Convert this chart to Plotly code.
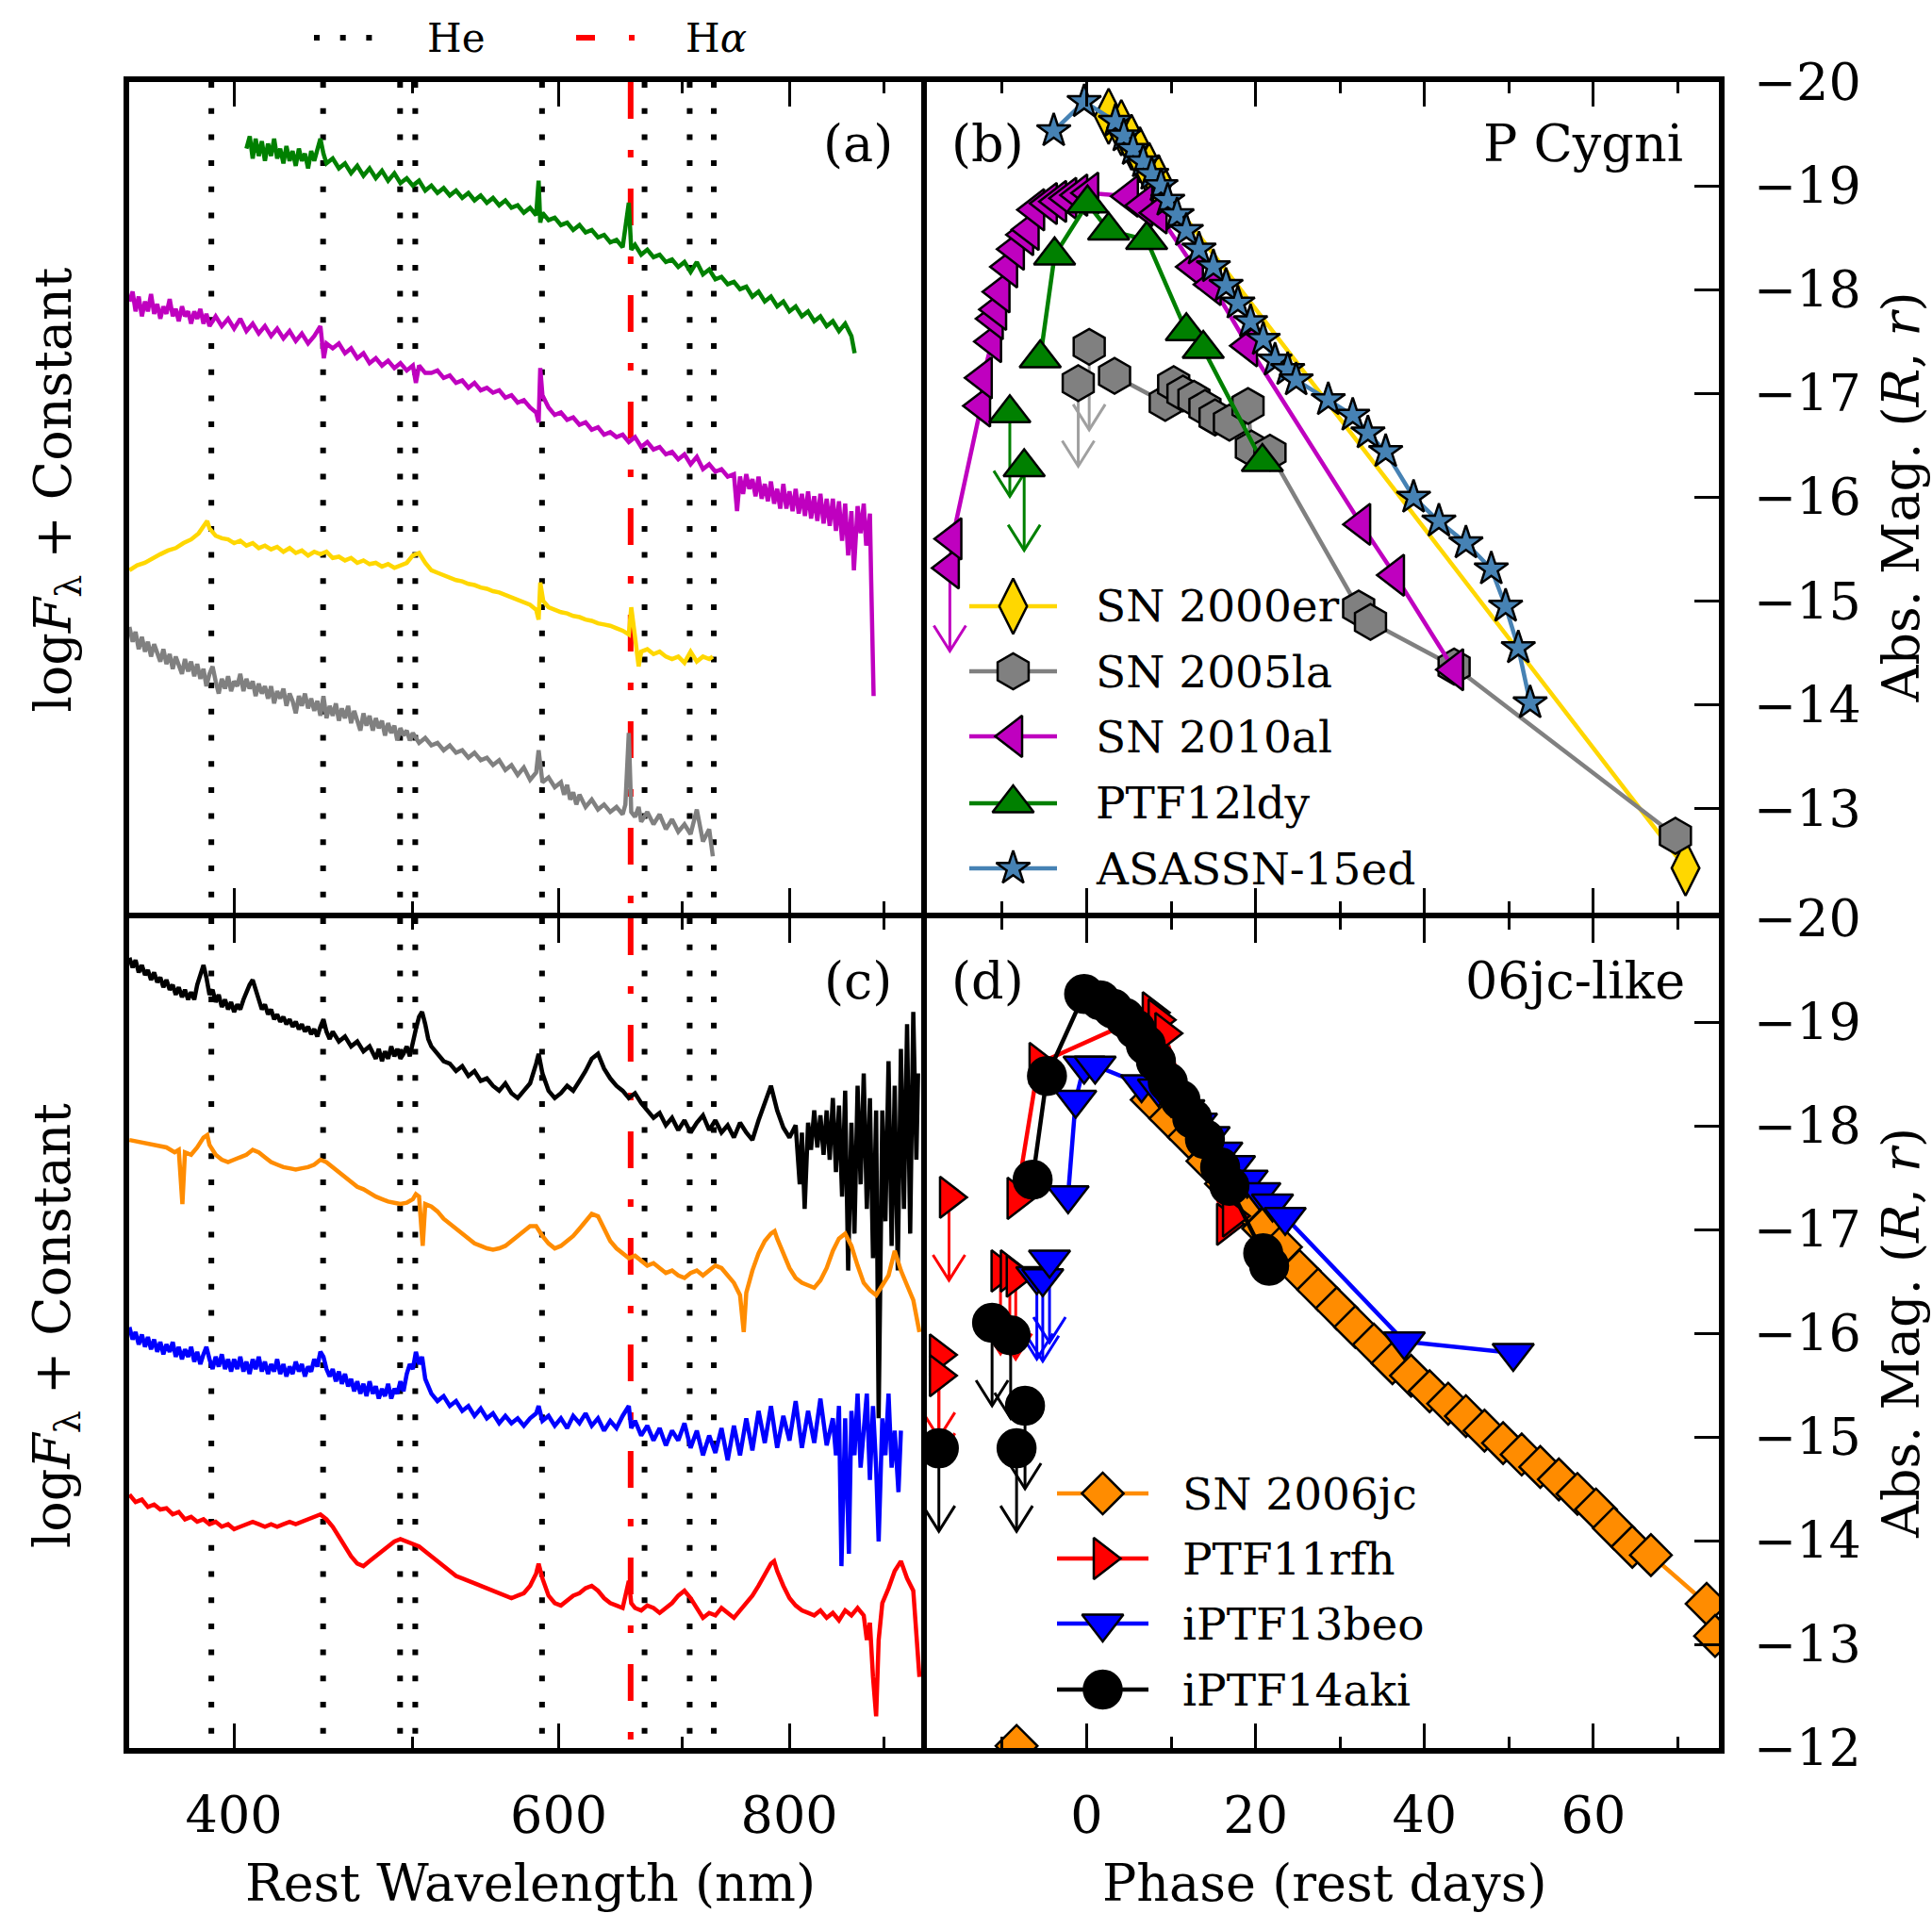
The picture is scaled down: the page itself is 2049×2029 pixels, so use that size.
import plotly.graph_objects as go

W, H = 2049, 2029
SERIF = "DejaVu Serif"

# Rest wavelengths of the marked lines (nm)
HE_LINES_NM = [388.9, 447.1, 492.2, 501.6, 587.6, 667.8, 706.5, 728.1]
HALPHA_NM = 656.3

# ---------------- spectra: (rest wavelength nm, log F + offset) ----------------
SPEC_PTF12LDY = [
    (406.3, 6.22), (408.0, 6.32), (409.5, 6.14), (411.0, 6.30), (412.6, 6.16), (414.2, 6.28),
    (415.8, 6.12), (417.4, 6.26), (419.0, 6.16), (420.6, 6.30), (422.2, 6.14), (423.8, 6.22),
    (425.5, 6.10), (427.1, 6.24), (428.8, 6.12), (430.4, 6.20), (432.1, 6.08), (433.8, 6.22),
    (435.4, 6.12), (437.1, 6.18), (438.8, 6.06), (440.5, 6.20), (442.2, 6.12), (443.9, 6.22),
    (445.6, 6.30), (447.3, 6.18), (449.0, 6.10), (452.5, 6.14), (456.0, 6.06), (459.5, 6.10),
    (463.0, 6.02), (466.6, 6.08), (470.2, 6.00), (473.8, 6.06), (477.5, 5.98), (481.2, 6.04),
    (484.9, 5.96), (488.7, 6.02), (492.4, 5.94), (496.3, 5.98), (500.1, 5.92), (504.0, 5.96),
    (507.9, 5.88), (511.8, 5.92), (515.7, 5.86), (519.7, 5.90), (523.7, 5.84), (527.8, 5.88),
    (531.9, 5.82), (536.0, 5.86), (540.1, 5.80), (544.3, 5.84), (548.5, 5.78), (552.7, 5.82),
    (557.0, 5.76), (561.3, 5.80), (565.6, 5.74), (570.0, 5.76), (574.4, 5.70), (578.9, 5.74),
    (583.3, 5.68), (585.1, 5.96), (586.3, 5.62), (587.9, 5.70), (592.4, 5.64), (597.0, 5.66),
    (601.6, 5.60), (606.3, 5.62), (610.9, 5.56), (615.7, 5.60), (620.4, 5.54), (625.2, 5.56),
    (630.1, 5.50), (634.9, 5.52), (639.8, 5.46), (644.8, 5.48), (649.8, 5.42), (654.8, 5.78),
    (656.8, 5.40), (659.9, 5.44), (665.0, 5.36), (670.1, 5.40), (675.3, 5.34), (680.5, 5.36),
    (685.8, 5.30), (691.1, 5.32), (696.5, 5.26), (701.9, 5.30), (707.3, 5.22), (712.8, 5.30),
    (718.3, 5.20), (723.9, 5.24), (729.5, 5.16), (735.1, 5.18), (740.8, 5.12), (746.6, 5.14),
    (752.3, 5.08), (758.2, 5.10), (764.0, 5.02), (769.9, 5.06), (775.9, 4.98), (781.9, 5.02),
    (788.0, 4.94), (794.1, 4.98), (800.2, 4.90), (806.4, 4.94), (812.7, 4.86), (819.0, 4.90),
    (825.3, 4.82), (831.7, 4.86), (838.2, 4.78), (844.7, 4.82), (851.2, 4.74), (857.8, 4.80),
    (864.5, 4.70), (868.0, 4.56),
]
SPEC_SN2010AL = [
    (351.1, 4.98), (352.5, 5.06), (353.8, 4.90), (355.2, 5.02), (356.6, 4.86), (358.0, 4.98),
    (359.3, 4.90), (360.7, 5.04), (362.1, 4.88), (363.5, 4.96), (364.9, 4.84), (366.3, 4.94),
    (367.7, 4.88), (369.2, 5.00), (370.6, 4.86), (372.0, 4.92), (373.4, 4.82), (374.9, 4.94),
    (376.3, 4.86), (377.8, 4.90), (379.2, 4.80), (380.7, 4.90), (382.1, 4.84), (383.6, 4.92),
    (385.1, 4.80), (386.5, 4.88), (388.0, 4.78), (391.0, 4.86), (394.0, 4.78), (397.1, 4.84),
    (400.1, 4.76), (403.2, 4.84), (406.3, 4.74), (409.5, 4.80), (412.6, 4.72), (415.8, 4.78),
    (419.0, 4.70), (422.2, 4.76), (425.5, 4.68), (428.8, 4.74), (432.1, 4.66), (435.4, 4.72),
    (438.8, 4.64), (442.2, 4.70), (445.6, 4.78), (447.5, 4.52), (449.0, 4.64), (452.5, 4.60),
    (456.0, 4.64), (459.5, 4.56), (463.0, 4.60), (466.6, 4.52), (470.2, 4.56), (473.8, 4.48),
    (477.5, 4.52), (481.2, 4.46), (484.9, 4.50), (488.7, 4.44), (492.4, 4.48), (496.3, 4.42),
    (500.1, 4.46), (502.0, 4.32), (504.0, 4.46), (507.9, 4.40), (511.8, 4.40), (515.7, 4.42),
    (519.7, 4.36), (523.7, 4.38), (527.8, 4.32), (531.9, 4.34), (536.0, 4.28), (540.1, 4.32),
    (544.3, 4.26), (548.5, 4.28), (552.7, 4.24), (557.0, 4.26), (561.3, 4.20), (565.6, 4.22),
    (570.0, 4.16), (574.4, 4.18), (578.9, 4.12), (583.3, 4.08), (585.1, 4.00), (586.3, 4.44),
    (587.9, 4.22), (592.4, 4.12), (597.0, 4.06), (601.6, 4.08), (606.3, 4.02), (610.9, 4.04),
    (615.7, 3.98), (620.4, 4.00), (625.2, 3.94), (630.1, 3.96), (634.9, 3.90), (639.8, 3.92),
    (644.8, 3.88), (649.8, 3.90), (654.8, 3.84), (659.9, 3.88), (665.0, 3.80), (670.1, 3.84),
    (675.3, 3.78), (680.5, 3.80), (685.8, 3.74), (691.1, 3.76), (696.5, 3.70), (701.9, 3.74),
    (707.3, 3.66), (712.8, 3.72), (718.3, 3.62), (723.9, 3.66), (729.5, 3.60), (735.1, 3.62),
    (740.8, 3.56), (746.6, 3.58), (749.5, 3.28), (752.3, 3.56), (755.2, 3.42), (758.2, 3.58),
    (761.1, 3.46), (764.0, 3.54), (767.0, 3.40), (769.9, 3.56), (772.9, 3.38), (775.9, 3.50),
    (778.9, 3.36), (781.9, 3.52), (785.0, 3.34), (788.0, 3.46), (791.0, 3.30), (794.1, 3.50),
    (797.1, 3.30), (800.2, 3.44), (803.3, 3.28), (806.4, 3.46), (809.5, 3.26), (812.7, 3.42),
    (815.8, 3.24), (819.0, 3.44), (822.1, 3.22), (825.3, 3.40), (828.5, 3.20), (831.7, 3.42),
    (835.0, 3.18), (838.2, 3.38), (841.4, 3.16), (844.7, 3.38), (848.0, 3.12), (851.2, 3.36),
    (854.5, 3.04), (857.8, 3.34), (861.0, 2.92), (864.5, 3.28), (867.2, 2.80), (871.2, 3.32),
    (874.5, 3.10), (877.9, 3.34), (880.6, 3.00), (884.7, 3.26), (886.1, 2.72), (888.8, 1.78),
]
SPEC_SN2000ER = [
    (351.1, 2.80), (354.5, 2.84), (357.9, 2.86), (361.4, 2.90), (364.9, 2.93), (368.4, 2.96),
    (372.0, 2.98), (375.6, 3.02), (379.2, 3.05), (382.8, 3.10), (385.1, 3.16), (386.9, 3.20),
    (388.0, 3.14), (391.0, 3.08), (394.0, 3.06), (397.1, 3.05), (400.1, 3.02), (403.2, 3.04),
    (406.3, 3.00), (409.5, 3.02), (412.6, 2.98), (415.8, 3.00), (419.0, 2.97), (422.2, 2.99),
    (425.5, 2.95), (428.8, 2.98), (432.1, 2.94), (435.4, 2.96), (438.8, 2.92), (442.2, 2.95),
    (445.6, 2.93), (449.0, 2.95), (452.5, 2.90), (456.0, 2.91), (459.5, 2.88), (463.0, 2.90),
    (466.6, 2.86), (470.2, 2.88), (473.8, 2.85), (477.5, 2.86), (481.2, 2.83), (484.9, 2.85),
    (488.7, 2.82), (492.4, 2.84), (496.3, 2.86), (500.1, 2.92), (504.0, 2.94), (507.9, 2.86),
    (511.8, 2.80), (515.7, 2.78), (519.7, 2.76), (523.7, 2.74), (527.8, 2.72), (531.9, 2.71),
    (536.0, 2.69), (540.1, 2.68), (544.3, 2.66), (548.5, 2.65), (552.7, 2.63), (557.0, 2.62),
    (561.3, 2.60), (565.6, 2.58), (570.0, 2.56), (574.4, 2.54), (578.9, 2.52), (583.3, 2.48),
    (585.1, 2.40), (586.3, 2.70), (588.5, 2.55), (592.4, 2.50), (597.0, 2.48), (601.6, 2.46),
    (606.3, 2.45), (610.9, 2.43), (615.7, 2.42), (620.4, 2.40), (625.2, 2.39), (630.1, 2.37),
    (634.9, 2.36), (639.8, 2.35), (644.8, 2.33), (649.8, 2.31), (654.8, 2.28), (656.8, 2.50),
    (659.9, 2.26), (662.9, 2.02), (665.0, 2.14), (670.1, 2.16), (675.3, 2.12), (680.5, 2.14),
    (685.8, 2.10), (691.1, 2.08), (696.5, 2.10), (701.9, 2.05), (707.3, 2.14), (712.8, 2.06),
    (718.3, 2.10), (723.9, 2.08), (727.2, 2.10),
]
SPEC_SN2005LA = [
    (351.1, 2.34), (352.5, 2.22), (353.8, 2.30), (355.2, 2.16), (356.6, 2.26), (358.0, 2.14),
    (359.3, 2.22), (360.7, 2.10), (362.1, 2.20), (363.5, 2.12), (364.9, 2.06), (366.3, 2.16),
    (367.7, 2.04), (369.2, 2.12), (370.6, 2.00), (372.0, 2.10), (373.4, 2.02), (374.9, 1.96),
    (376.3, 2.08), (377.8, 1.98), (379.2, 2.06), (380.7, 1.94), (382.1, 2.04), (383.6, 1.92),
    (385.1, 2.00), (386.5, 1.86), (388.0, 1.96), (389.5, 2.02), (391.0, 1.90), (392.5, 1.80),
    (394.0, 1.92), (395.6, 1.84), (397.1, 1.94), (398.6, 1.82), (400.1, 1.90), (401.7, 1.86),
    (403.2, 1.96), (404.8, 1.82), (406.3, 1.92), (407.9, 1.84), (409.5, 1.90), (411.0, 1.78),
    (412.6, 1.88), (414.2, 1.80), (415.8, 1.86), (417.4, 1.76), (419.0, 1.86), (420.6, 1.72),
    (422.2, 1.82), (423.8, 1.76), (425.5, 1.84), (427.1, 1.70), (428.8, 1.80), (430.4, 1.74),
    (432.1, 1.64), (433.8, 1.78), (435.4, 1.70), (437.1, 1.80), (438.8, 1.68), (440.5, 1.76),
    (442.2, 1.66), (443.9, 1.74), (445.6, 1.62), (447.3, 1.78), (449.0, 1.60), (450.8, 1.70),
    (452.5, 1.62), (454.3, 1.72), (456.0, 1.58), (457.7, 1.68), (459.5, 1.60), (461.3, 1.70),
    (463.0, 1.56), (464.8, 1.66), (466.6, 1.58), (468.4, 1.50), (470.2, 1.64), (472.0, 1.54),
    (473.8, 1.62), (475.7, 1.50), (477.5, 1.60), (479.3, 1.52), (481.2, 1.58), (483.0, 1.46),
    (484.9, 1.56), (486.8, 1.48), (488.7, 1.54), (490.5, 1.42), (492.4, 1.52), (494.3, 1.46),
    (496.3, 1.50), (498.2, 1.42), (500.1, 1.48), (504.0, 1.40), (507.9, 1.44), (511.8, 1.38),
    (515.7, 1.40), (519.7, 1.34), (523.7, 1.38), (527.8, 1.32), (531.9, 1.34), (536.0, 1.28),
    (540.1, 1.32), (544.3, 1.26), (548.5, 1.28), (552.7, 1.22), (557.0, 1.26), (561.3, 1.18),
    (565.6, 1.22), (570.0, 1.14), (574.4, 1.20), (578.9, 1.10), (583.3, 1.16), (585.1, 1.34),
    (587.9, 1.08), (592.4, 1.12), (597.0, 1.04), (601.6, 1.08), (604.0, 0.98), (606.3, 1.06),
    (608.6, 0.94), (610.9, 1.00), (613.3, 0.90), (615.7, 0.98), (620.4, 0.88), (625.2, 0.94),
    (630.1, 0.86), (634.9, 0.90), (639.8, 0.84), (644.8, 0.88), (649.8, 0.82), (652.0, 0.90),
    (654.8, 1.48), (656.8, 0.84), (659.9, 0.80), (662.9, 0.88), (665.0, 0.76), (670.1, 0.84),
    (675.3, 0.74), (680.5, 0.82), (685.8, 0.70), (691.1, 0.78), (696.5, 0.68), (701.9, 0.74),
    (707.3, 0.66), (712.8, 0.86), (718.3, 0.60), (723.9, 0.70), (727.2, 0.48),
]
SPEC_IPTF14AKI = [
    (351.1, 6.44), (352.5, 6.36), (353.8, 6.42), (355.2, 6.32), (356.6, 6.38), (358.0, 6.30),
    (359.3, 6.34), (360.7, 6.26), (362.1, 6.32), (363.5, 6.24), (364.9, 6.28), (366.3, 6.20),
    (367.7, 6.26), (369.2, 6.18), (370.6, 6.22), (372.0, 6.14), (373.4, 6.20), (374.9, 6.12),
    (376.3, 6.18), (377.8, 6.10), (379.2, 6.16), (380.7, 6.10), (382.1, 6.22), (383.6, 6.30),
    (385.1, 6.38), (386.5, 6.28), (388.0, 6.14), (389.5, 6.18), (391.0, 6.08), (392.5, 6.14),
    (394.0, 6.04), (395.6, 6.10), (397.1, 6.02), (398.6, 6.08), (400.1, 6.00), (401.7, 6.06),
    (403.2, 6.02), (404.8, 6.10), (406.3, 6.16), (407.9, 6.22), (409.5, 6.26), (411.0, 6.18),
    (412.6, 6.10), (414.2, 6.02), (415.8, 6.06), (417.4, 5.98), (419.0, 6.02), (420.6, 5.94),
    (422.2, 5.98), (423.8, 5.92), (425.5, 5.96), (427.1, 5.90), (428.8, 5.94), (430.4, 5.88),
    (432.1, 5.92), (433.8, 5.86), (435.4, 5.90), (437.1, 5.84), (438.8, 5.88), (440.5, 5.82),
    (442.2, 5.86), (443.9, 5.80), (445.6, 5.88), (447.3, 5.94), (449.0, 5.84), (450.8, 5.78),
    (452.5, 5.84), (456.0, 5.76), (459.5, 5.80), (463.0, 5.72), (466.6, 5.76), (470.2, 5.68),
    (473.8, 5.72), (477.5, 5.62), (479.3, 5.70), (481.2, 5.60), (483.0, 5.68), (484.9, 5.62),
    (486.8, 5.72), (488.7, 5.64), (490.5, 5.70), (492.4, 5.62), (494.3, 5.66), (496.3, 5.72),
    (498.2, 5.64), (500.1, 5.76), (502.0, 5.86), (504.0, 5.96), (505.9, 6.00), (507.9, 5.90),
    (509.8, 5.78), (511.8, 5.72), (515.7, 5.66), (519.7, 5.60), (523.7, 5.58), (527.8, 5.52),
    (531.9, 5.56), (536.0, 5.48), (540.1, 5.52), (544.3, 5.44), (548.5, 5.46), (552.7, 5.40),
    (557.0, 5.36), (561.3, 5.42), (565.6, 5.34), (570.0, 5.30), (574.4, 5.36), (578.9, 5.42),
    (583.3, 5.58), (585.1, 5.66), (587.9, 5.50), (592.4, 5.36), (597.0, 5.30), (601.6, 5.34),
    (606.3, 5.40), (610.9, 5.36), (615.7, 5.44), (620.4, 5.52), (625.2, 5.62), (630.1, 5.66),
    (634.9, 5.54), (639.8, 5.46), (644.8, 5.40), (649.8, 5.36), (654.8, 5.30), (659.9, 5.34),
    (665.0, 5.26), (670.1, 5.20), (675.3, 5.14), (680.5, 5.18), (685.8, 5.08), (691.1, 5.14),
    (696.5, 5.04), (701.9, 5.12), (707.3, 5.02), (712.8, 5.10), (718.3, 5.16), (723.9, 5.04),
    (729.5, 5.12), (735.1, 5.02), (740.8, 5.08), (746.6, 4.98), (752.3, 5.10), (758.2, 5.02),
    (764.0, 4.96), (769.9, 5.12), (775.9, 5.26), (781.9, 5.40), (788.0, 5.20), (794.1, 5.06),
    (800.2, 4.98), (806.4, 5.08), (810.5, 4.60), (812.7, 5.02), (815.5, 4.40), (819.0, 5.10),
    (822.0, 4.88), (825.3, 5.20), (828.5, 4.90), (831.7, 5.16), (835.0, 4.84), (838.2, 5.20),
    (841.4, 4.80), (844.7, 5.30), (848.0, 4.70), (851.2, 5.24), (854.5, 4.50), (857.8, 5.36),
    (861.0, 3.90), (864.5, 5.10), (867.8, 4.20), (871.2, 5.40), (874.5, 4.60), (877.9, 5.50),
    (881.3, 4.40), (884.7, 5.30), (888.1, 4.00), (891.6, 5.20), (894.4, 2.70), (898.5, 5.20),
    (902.0, 4.30), (905.5, 5.60), (909.0, 4.10), (912.5, 5.40), (916.0, 3.90), (919.6, 5.70),
    (923.1, 4.40), (926.7, 5.90), (930.3, 4.20), (933.9, 6.00), (937.5, 4.80), (939.5, 5.50),
]
SPEC_SN2006JC = [
    (351.1, 4.96), (356.6, 4.94), (362.1, 4.92), (367.7, 4.90), (371.5, 4.86), (373.4, 4.88),
    (375.1, 4.44), (376.3, 4.86), (379.2, 4.84), (382.1, 4.90), (385.1, 4.98), (386.9, 5.00),
    (388.0, 4.92), (391.0, 4.84), (394.0, 4.80), (397.1, 4.78), (400.1, 4.80), (403.2, 4.82),
    (406.3, 4.84), (409.5, 4.88), (412.6, 4.86), (415.8, 4.82), (419.0, 4.78), (422.2, 4.76),
    (425.5, 4.74), (428.8, 4.73), (432.1, 4.72), (435.4, 4.73), (438.8, 4.74), (442.2, 4.76),
    (445.6, 4.80), (449.0, 4.78), (452.5, 4.74), (456.0, 4.70), (459.5, 4.66), (463.0, 4.62),
    (466.6, 4.58), (470.2, 4.56), (473.8, 4.53), (477.5, 4.50), (481.2, 4.48), (484.9, 4.46),
    (488.7, 4.45), (492.4, 4.44), (496.3, 4.45), (500.1, 4.48), (502.0, 4.52), (504.0, 4.50),
    (506.3, 4.10), (507.9, 4.44), (511.8, 4.42), (515.7, 4.38), (519.7, 4.32), (523.7, 4.28),
    (527.8, 4.24), (531.9, 4.20), (536.0, 4.16), (540.1, 4.12), (544.3, 4.10), (548.5, 4.08),
    (552.7, 4.07), (557.0, 4.08), (561.3, 4.10), (565.6, 4.14), (570.0, 4.18), (574.4, 4.22),
    (578.9, 4.26), (583.3, 4.26), (587.9, 4.18), (592.4, 4.12), (597.0, 4.08), (601.6, 4.10),
    (606.3, 4.14), (610.9, 4.18), (615.7, 4.24), (620.4, 4.30), (625.2, 4.36), (630.1, 4.34),
    (634.9, 4.24), (639.8, 4.14), (644.8, 4.08), (649.8, 4.04), (654.8, 4.00), (659.9, 4.02),
    (665.0, 3.98), (670.1, 3.94), (675.3, 3.96), (680.5, 3.92), (685.8, 3.88), (691.1, 3.90),
    (696.5, 3.86), (701.9, 3.84), (707.3, 3.88), (712.8, 3.90), (718.3, 3.86), (723.9, 3.90),
    (729.5, 3.94), (735.1, 3.92), (740.8, 3.86), (746.6, 3.80), (752.3, 3.70), (755.8, 3.40),
    (758.2, 3.72), (764.0, 3.90), (769.9, 4.04), (775.9, 4.14), (781.9, 4.20), (785.5, 4.22),
    (788.0, 4.16), (794.1, 4.04), (800.2, 3.92), (806.4, 3.84), (812.7, 3.80), (819.0, 3.78),
    (825.3, 3.76), (831.7, 3.82), (838.2, 3.92), (844.7, 4.06), (851.2, 4.16), (857.8, 4.20),
    (864.5, 4.10), (871.2, 3.94), (877.9, 3.80), (884.7, 3.74), (891.6, 3.70), (898.5, 3.78),
    (905.5, 3.86), (912.5, 4.06), (919.6, 3.90), (926.7, 3.78), (933.9, 3.66), (941.1, 3.40),
]
SPEC_IPTF13BEO = [
    (351.1, 3.44), (352.5, 3.34), (353.8, 3.40), (355.2, 3.30), (356.6, 3.38), (358.0, 3.28),
    (359.3, 3.36), (360.7, 3.26), (362.1, 3.34), (363.5, 3.24), (364.9, 3.32), (366.3, 3.22),
    (367.7, 3.30), (369.2, 3.24), (370.6, 3.32), (372.0, 3.20), (373.4, 3.28), (374.9, 3.18),
    (376.3, 3.26), (377.8, 3.20), (379.2, 3.28), (380.7, 3.16), (382.1, 3.24), (383.6, 3.14),
    (385.1, 3.22), (386.5, 3.28), (388.0, 3.18), (389.5, 3.10), (391.0, 3.20), (392.5, 3.12),
    (394.0, 3.22), (395.6, 3.10), (397.1, 3.18), (398.6, 3.08), (400.1, 3.18), (401.7, 3.10),
    (403.2, 3.20), (404.8, 3.08), (406.3, 3.16), (407.9, 3.06), (409.5, 3.18), (411.0, 3.10),
    (412.6, 3.20), (414.2, 3.08), (415.8, 3.16), (417.4, 3.06), (419.0, 3.14), (420.6, 3.08),
    (422.2, 3.18), (423.8, 3.06), (425.5, 3.14), (427.1, 3.04), (428.8, 3.12), (430.4, 3.06),
    (432.1, 3.16), (433.8, 3.08), (435.4, 3.14), (437.1, 3.04), (438.8, 3.12), (440.5, 3.08),
    (442.2, 3.18), (443.9, 3.12), (445.6, 3.24), (447.3, 3.20), (449.0, 3.10), (450.8, 3.04),
    (452.5, 3.10), (454.3, 3.00), (456.0, 3.08), (457.7, 2.98), (459.5, 3.06), (461.3, 2.96),
    (463.0, 3.02), (464.8, 2.92), (466.6, 3.00), (468.4, 2.90), (470.2, 2.98), (472.0, 2.88),
    (473.8, 3.00), (475.7, 2.90), (477.5, 2.96), (479.3, 2.86), (481.2, 2.94), (483.0, 2.88),
    (484.9, 2.98), (486.8, 2.86), (488.7, 2.94), (490.5, 2.90), (492.4, 3.00), (494.3, 2.92),
    (496.3, 3.06), (498.2, 3.14), (500.1, 3.10), (502.0, 3.24), (504.0, 3.14), (505.9, 3.20),
    (507.9, 3.02), (509.8, 2.96), (511.8, 2.90), (515.7, 2.84), (519.7, 2.88), (523.7, 2.80),
    (527.8, 2.84), (531.9, 2.76), (536.0, 2.80), (540.1, 2.72), (544.3, 2.78), (548.5, 2.70),
    (552.7, 2.74), (557.0, 2.66), (561.3, 2.72), (565.6, 2.66), (570.0, 2.70), (574.4, 2.64),
    (578.9, 2.70), (583.3, 2.74), (585.1, 2.80), (587.9, 2.68), (592.4, 2.72), (597.0, 2.64),
    (601.6, 2.70), (606.3, 2.62), (610.9, 2.72), (615.7, 2.66), (620.4, 2.74), (625.2, 2.64),
    (630.1, 2.70), (634.9, 2.60), (639.8, 2.68), (644.8, 2.62), (649.8, 2.72), (654.8, 2.80),
    (656.8, 2.62), (659.9, 2.68), (665.0, 2.56), (670.1, 2.64), (675.3, 2.52), (680.5, 2.62),
    (685.8, 2.48), (691.1, 2.60), (696.5, 2.52), (701.9, 2.66), (707.3, 2.46), (712.8, 2.60),
    (718.3, 2.40), (723.9, 2.56), (729.5, 2.42), (735.1, 2.62), (740.8, 2.36), (746.6, 2.64),
    (752.3, 2.40), (758.2, 2.70), (764.0, 2.44), (769.9, 2.76), (775.9, 2.50), (781.9, 2.80),
    (788.0, 2.46), (794.1, 2.72), (800.2, 2.52), (806.4, 2.84), (812.7, 2.46), (819.0, 2.76),
    (825.3, 2.50), (831.7, 2.86), (838.2, 2.48), (844.7, 2.70), (848.0, 2.40), (851.2, 2.80),
    (853.8, 1.50), (857.8, 2.70), (861.8, 1.60), (864.5, 2.76), (867.8, 2.40), (871.2, 2.90),
    (874.5, 2.30), (877.9, 2.60), (881.3, 2.90), (884.7, 2.20), (888.1, 2.80), (891.6, 2.30),
    (894.4, 1.70), (898.5, 2.70), (902.0, 2.40), (905.5, 2.90), (909.0, 2.30), (912.5, 2.60),
    (916.8, 2.10), (919.6, 2.60),
]
SPEC_PTF11RFH = [
    (351.1, 2.08), (353.8, 2.02), (356.6, 2.04), (359.3, 1.98), (362.1, 2.00), (364.9, 1.96),
    (367.7, 1.97), (370.6, 1.92), (373.4, 1.94), (376.3, 1.88), (379.2, 1.90), (382.1, 1.86),
    (385.1, 1.88), (388.0, 1.84), (391.0, 1.86), (394.0, 1.82), (397.1, 1.84), (400.1, 1.80),
    (403.2, 1.82), (406.3, 1.84), (409.5, 1.86), (412.6, 1.84), (415.8, 1.82), (419.0, 1.84),
    (422.2, 1.82), (425.5, 1.84), (428.8, 1.86), (432.1, 1.84), (435.4, 1.86), (438.8, 1.88),
    (442.2, 1.90), (445.6, 1.92), (449.0, 1.88), (452.5, 1.82), (456.0, 1.74), (459.5, 1.66),
    (463.0, 1.58), (466.6, 1.52), (470.2, 1.50), (473.8, 1.54), (477.5, 1.58), (481.2, 1.62),
    (484.9, 1.66), (488.7, 1.70), (492.4, 1.72), (496.3, 1.70), (500.1, 1.68), (504.0, 1.66),
    (507.9, 1.62), (511.8, 1.58), (515.7, 1.54), (519.7, 1.50), (523.7, 1.46), (527.8, 1.42),
    (531.9, 1.40), (536.0, 1.38), (540.1, 1.36), (544.3, 1.34), (548.5, 1.32), (552.7, 1.30),
    (557.0, 1.28), (561.3, 1.26), (565.6, 1.24), (570.0, 1.26), (574.4, 1.28), (578.9, 1.34),
    (583.3, 1.44), (585.1, 1.52), (587.9, 1.40), (592.4, 1.26), (597.0, 1.20), (601.6, 1.18),
    (606.3, 1.22), (610.9, 1.26), (615.7, 1.28), (620.4, 1.32), (625.2, 1.34), (630.1, 1.30),
    (634.9, 1.24), (639.8, 1.20), (644.8, 1.18), (649.8, 1.16), (654.8, 1.38), (656.8, 1.20),
    (659.9, 1.16), (665.0, 1.14), (670.1, 1.18), (675.3, 1.16), (680.5, 1.12), (685.8, 1.16),
    (691.1, 1.20), (696.5, 1.26), (701.9, 1.30), (707.3, 1.24), (712.8, 1.16), (718.3, 1.08),
    (723.9, 1.12), (729.5, 1.10), (735.1, 1.16), (740.8, 1.12), (746.6, 1.08), (752.3, 1.14),
    (758.2, 1.20), (764.0, 1.26), (769.9, 1.34), (775.9, 1.44), (781.9, 1.52), (785.0, 1.54),
    (788.0, 1.46), (794.1, 1.34), (800.2, 1.24), (806.4, 1.18), (812.7, 1.14), (819.0, 1.12),
    (825.3, 1.10), (831.7, 1.14), (838.2, 1.08), (844.7, 1.12), (851.2, 1.06), (857.8, 1.14),
    (864.5, 1.10), (871.2, 1.16), (877.9, 1.10), (881.3, 0.90), (884.7, 1.04), (888.1, 0.60),
    (891.6, 0.28), (894.4, 0.90), (898.5, 1.20), (905.5, 1.32), (912.5, 1.46), (919.6, 1.54),
    (926.7, 1.40), (933.9, 1.30), (941.1, 0.60),
]

# ---------------- light curves: phase (rest days), absolute magnitude ----------------
SN2000ER_PHASE = [2.6, 4.1, 5.3, 6.3, 7.4, 8.5, 70.9]
SN2000ER_MAG = [-19.67, -19.56, -19.42, -19.30, -19.15, -19.03, -12.43]

SN2005LA_PHASE = [3.3, 9.3, 10.3, 11.4, 12.7, 14.0, 15.2, 16.9, 19.1, 19.5, 21.7, 32.2, 33.6, 43.5, 69.7]
SN2005LA_MAG = [-17.17, -16.91, -17.09, -17.00, -16.95, -16.86, -16.77, -16.72, -16.88, -16.47,
                -16.43, -14.93, -14.80, -14.37, -12.74]
SN2005LA_LIM_PHASE = [0.3, -1.0]
SN2005LA_LIM_MAG = [-17.45, -17.10]

SN2010AL_PHASE = [-16.2, -15.9, -12.5, -12.3, -11.2, -11.0, -10.6, -10.2, -9.3, -8.5, -7.4, -6.75,
                  -6.1, -4.6, -3.5, -2.3, -1.0, 0.3, 5.0, 6.7, 8.4, 12.7, 14.8, 19.1, 32.5, 36.5, 43.5]
SN2010AL_MAG = [-15.32, -15.60, -16.88, -17.15, -17.50, -17.72, -17.81, -17.98, -18.22, -18.39,
                -18.53, -18.58, -18.77, -18.83, -18.85, -18.88, -18.91, -18.93, -18.90, -18.81,
                -18.74, -18.22, -18.05, -17.46, -15.74, -15.25, -14.34]
SN2010AL_LIM_PHASE = [-16.2]
SN2010AL_LIM_MAG = [-15.32]

PTF12LDY_PHASE = [-5.5, -3.8, 0.1, 2.6, 7.1, 11.8, 13.8, 20.8]
PTF12LDY_MAG = [-17.34, -18.33, -18.83, -18.57, -18.48, -17.60, -17.43, -16.34]
PTF12LDY_LIM_PHASE = [-9.1, -7.4]
PTF12LDY_LIM_MAG = [-16.81, -16.29]

ASASSN15ED_PHASE = [-3.9, -0.3, 3.4, 4.4, 5.5, 6.7, 7.7, 8.8, 9.6, 10.7, 11.8, 13.3, 15.0, 16.5,
                    17.9, 19.4, 20.9, 22.3, 23.8, 24.8, 28.6, 31.5, 33.3, 35.4, 38.7, 41.7, 44.9,
                    47.9, 49.6, 51.1, 52.5]
ASASSN15ED_MAG = [-19.53, -19.81, -19.62, -19.48, -19.35, -19.23, -19.11, -19.00, -18.86, -18.72,
                  -18.57, -18.39, -18.22, -18.04, -17.87, -17.69, -17.52, -17.32, -17.23, -17.13,
                  -16.94, -16.79, -16.62, -16.44, -16.00, -15.77, -15.56, -15.31, -14.95, -14.55,
                  -14.02]

SN2006JC_PHASE = [7.7, 9.9, 12.1, 14.3, 16.5, 18.7, 20.9, 23.0, 25.2, 27.4, 29.6, 31.8, 34.0, 36.2,
                  38.4, 40.6, 42.8, 44.9, 47.1, 49.3, 51.5, 53.7, 55.9, 58.1, 60.3, 62.4, 64.6, 66.8,
                  73.4, 74.4]
SN2006JC_MAG = [-18.25, -18.07, -17.89, -17.66, -17.44, -17.24, -17.01, -16.83, -16.60, -16.42,
                -16.24, -16.06, -15.89, -15.71, -15.59, -15.44, -15.32, -15.20, -15.06, -14.94,
                -14.83, -14.71, -14.59, -14.45, -14.30, -14.12, -13.94, -13.86, -13.39, -13.08]
SN2006JC_LIM_PHASE = [-8.3]
SN2006JC_LIM_MAG = [-12.02]

PTF11RFH_PHASE = [-8.3, -5.7, 7.7, 8.4, 9.2, 16.5, 17.2]
PTF11RFH_MAG = [-17.30, -18.60, -19.09, -19.02, -18.89, -17.05, -17.13]
PTF11RFH_LIM_PHASE = [-17.5, -17.5, -16.3, -10.2, -9.1, -8.4]
PTF11RFH_LIM_MAG = [-15.79, -15.59, -17.31, -16.60, -16.60, -16.55]

IPTF13BEO_PHASE = [-2.2, -1.3, -0.3, 1.0, 6.5, 8.5, 10.0, 11.5, 13.0, 14.5, 16.0, 17.5, 19.0,
                   20.5, 22.0, 23.5, 37.6, 50.5]
IPTF13BEO_MAG = [-17.33, -18.25, -18.58, -18.58, -18.40, -18.36, -18.26, -18.16, -18.03, -17.90,
                 -17.75, -17.62, -17.48, -17.36, -17.25, -17.12, -15.92, -15.81]
IPTF13BEO_LIM_PHASE = [-5.9, -5.2, -4.4]
IPTF13BEO_LIM_MAG = [-16.55, -16.53, -16.71]

IPTF14AKI_PHASE = [-6.4, -4.7, -0.3, 1.6, 3.1, 4.5, 5.8, 7.0, 8.2, 9.6, 11.1, 12.5, 14.0, 15.8,
                   16.9, 20.9, 21.6]
IPTF14AKI_MAG = [-17.48, -18.48, -19.27, -19.21, -19.13, -19.04, -18.93, -18.78, -18.62, -18.42,
                 -18.25, -18.07, -17.87, -17.60, -17.42, -16.77, -16.65]
IPTF14AKI_LIM_PHASE = [-17.5, -11.2, -9.0, -8.3, -7.3]
IPTF14AKI_LIM_MAG = [-14.89, -16.10, -15.98, -14.89, -15.30]

# ---------------- layout geometry (pixels) ----------------
X_LEFT = (137, 977)
X_RIGHT = (983, 1823)
Y_TOP = (87, 968)
Y_BOT = (974, 1854)
WAVE_RANGE_LOG = [2.5453, 2.9746]
PHASE_RANGE = [-18.92, 74.85]
MAG_RANGE = [-12, -20]
FLUX_RANGE = [0.023, 6.76]


def xdom(px):
    return [px[0] / W, px[1] / W]


def ydom(px):
    return [1 - px[1] / H, 1 - px[0] / H]


PX_PER_DAY = (X_RIGHT[1] - X_RIGHT[0]) / (PHASE_RANGE[1] - PHASE_RANGE[0])
PX_PER_MAG = (Y_TOP[1] - Y_TOP[0]) / abs(MAG_RANGE[1] - MAG_RANGE[0])
ARROW_MAG = 0.8
HEAD_DAYS = 17 / PX_PER_DAY
HEAD_MAG = 27 / PX_PER_MAG

HE_DASH = "6px,21.7px"
HA_DASH = "39px,33px,8px,33px"

fig = go.Figure()


def line_markers(xa, ya):
    # vertical identification lines spanning a spectral panel
    for lam in HE_LINES_NM:
        fig.add_trace(go.Scatter(x=[lam, lam], y=[FLUX_RANGE[1], FLUX_RANGE[0]], mode="lines",
                                 xaxis=xa, yaxis=ya, hoverinfo="skip",
                                 line=dict(color="black", width=6, dash=HE_DASH)))
    fig.add_trace(go.Scatter(x=[HALPHA_NM, HALPHA_NM], y=[FLUX_RANGE[1], FLUX_RANGE[0]],
                             mode="lines", xaxis=xa, yaxis=ya, hoverinfo="skip",
                             line=dict(color="#FF0000", width=6, dash=HA_DASH)))


def spectrum(pairs, color, xa, ya):
    wl, fl = zip(*pairs)
    fig.add_trace(go.Scatter(x=wl, y=fl, mode="lines", xaxis=xa, yaxis=ya,
                             line=dict(color=color, width=4.5), hoverinfo="skip"))


def limit_arrows(phase, mag, color, xa, ya):
    xs, ys = [], []
    for t, m in zip(phase, mag):
        tip = m + ARROW_MAG
        xs += [t, t, None, t - HEAD_DAYS, t, t + HEAD_DAYS, None]
        ys += [m, tip, None, tip - HEAD_MAG, tip, tip - HEAD_MAG, None]
    fig.add_trace(go.Scatter(x=xs, y=ys, mode="lines", xaxis=xa, yaxis=ya,
                             line=dict(color=color, width=3), hoverinfo="skip"))


def curve(phase, mag, color, symbol, size, xa, ya, mode="lines+markers"):
    fig.add_trace(go.Scatter(
        x=phase, y=mag, mode=mode, xaxis=xa, yaxis=ya,
        line=dict(color=color, width=4.5),
        marker=dict(symbol=symbol, size=size, color=color, line=dict(color="black", width=2.5)),
        hoverinfo="skip"))


# panel (a)
line_markers("x", "y")
spectrum(SPEC_PTF12LDY, "#008000", "x", "y")
spectrum(SPEC_SN2010AL, "#BF00BF", "x", "y")
spectrum(SPEC_SN2000ER, "#FFD700", "x", "y")
spectrum(SPEC_SN2005LA, "#808080", "x", "y")
# panel (c)
line_markers("x3", "y3")
spectrum(SPEC_IPTF14AKI, "black", "x3", "y3")
spectrum(SPEC_SN2006JC, "#FF8C00", "x3", "y3")
spectrum(SPEC_IPTF13BEO, "#0000FF", "x3", "y3")
spectrum(SPEC_PTF11RFH, "#FF0000", "x3", "y3")

# panel (b)
limit_arrows(SN2005LA_LIM_PHASE, SN2005LA_LIM_MAG, "#A0A0A0", "x2", "y2")
limit_arrows(SN2010AL_LIM_PHASE, SN2010AL_LIM_MAG, "#BF00BF", "x2", "y2")
limit_arrows(PTF12LDY_LIM_PHASE, PTF12LDY_LIM_MAG, "#008000", "x2", "y2")
curve(SN2000ER_PHASE, SN2000ER_MAG, "#FFD700", "diamond-tall", 42, "x2", "y2")
curve(SN2005LA_PHASE, SN2005LA_MAG, "#808080", "hexagon", 38, "x2", "y2")
curve(SN2005LA_LIM_PHASE, SN2005LA_LIM_MAG, "#808080", "hexagon", 38, "x2", "y2", "markers")
curve(SN2010AL_PHASE, SN2010AL_MAG, "#BF00BF", "triangle-left", 38, "x2", "y2")
curve(PTF12LDY_PHASE, PTF12LDY_MAG, "#008000", "triangle-up", 38, "x2", "y2")
curve(PTF12LDY_LIM_PHASE, PTF12LDY_LIM_MAG, "#008000", "triangle-up", 38, "x2", "y2", "markers")
curve(ASASSN15ED_PHASE, ASASSN15ED_MAG, "#4682B4", "star", 27, "x2", "y2")

# panel (d)
limit_arrows(PTF11RFH_LIM_PHASE, PTF11RFH_LIM_MAG, "#FF0000", "x4", "y4")
limit_arrows(IPTF13BEO_LIM_PHASE, IPTF13BEO_LIM_MAG, "#0000FF", "x4", "y4")
limit_arrows(IPTF14AKI_LIM_PHASE, IPTF14AKI_LIM_MAG, "black", "x4", "y4")
curve(SN2006JC_PHASE, SN2006JC_MAG, "#FF8C00", "diamond", 34, "x4", "y4")
curve(SN2006JC_LIM_PHASE, SN2006JC_LIM_MAG, "#FF8C00", "diamond", 34, "x4", "y4", "markers")
curve(PTF11RFH_PHASE, PTF11RFH_MAG, "#FF0000", "triangle-right", 38, "x4", "y4")
curve(PTF11RFH_LIM_PHASE, PTF11RFH_LIM_MAG, "#FF0000", "triangle-right", 38, "x4", "y4", "markers")
curve(IPTF13BEO_PHASE, IPTF13BEO_MAG, "#0000FF", "triangle-down", 38, "x4", "y4")
curve(IPTF13BEO_LIM_PHASE, IPTF13BEO_LIM_MAG, "#0000FF", "triangle-down", 38, "x4", "y4", "markers")
curve(IPTF14AKI_PHASE, IPTF14AKI_MAG, "black", "circle", 40, "x4", "y4")
curve(IPTF14AKI_LIM_PHASE, IPTF14AKI_LIM_MAG, "black", "circle", 40, "x4", "y4", "markers")

# ---------------- hand-built legends on a full-figure pixel overlay ----------------
LEG_B_ROWS = [643, 712, 781, 852, 921]
LEG_B_ITEMS = [("SN 2000er", "#FFD700", "diamond-tall", 42), ("SN 2005la", "#808080", "hexagon", 38),
               ("SN 2010al", "#BF00BF", "triangle-left", 38), ("PTF12ldy", "#008000", "triangle-up", 38),
               ("ASASSN-15ed", "#4682B4", "star", 27)]
LEG_D_ROWS = [1584, 1653, 1722, 1792]
LEG_D_ITEMS = [("SN 2006jc", "#FF8C00", "diamond", 34), ("PTF11rfh", "#FF0000", "triangle-right", 38),
               ("iPTF13beo", "#0000FF", "triangle-down", 38), ("iPTF14aki", "black", "circle", 40)]

annotations = []


def legend_block(rows, items, x0, x1, xtext):
    for yy, (name, color, sym, size) in zip(rows, items):
        fig.add_trace(go.Scatter(
            x=[x0, x1], y=[yy, yy], mode="lines", xaxis="x5", yaxis="y5",
            line=dict(color=color, width=4.5), hoverinfo="skip"))
        fig.add_trace(go.Scatter(
            x=[(x0 + x1) / 2], y=[yy], mode="markers", xaxis="x5", yaxis="y5",
            marker=dict(symbol=sym, size=size, color=color, line=dict(color="black", width=2.5)),
            hoverinfo="skip"))
        annotations.append(dict(text=name, x=xtext / W, y=1 - yy / H, xref="paper", yref="paper",
                                xanchor="left", yanchor="middle", showarrow=False,
                                font=dict(family=SERIF, size=47, color="black")))


legend_block(LEG_B_ROWS, LEG_B_ITEMS, 1028, 1121, 1160)
legend_block(LEG_D_ROWS, LEG_D_ITEMS, 1121, 1218, 1252)

# line-identification key above panel (a)
fig.add_trace(go.Scatter(x=[333, 396], y=[40, 40], mode="lines", xaxis="x5", yaxis="y5",
                         line=dict(color="black", width=6, dash=HE_DASH), hoverinfo="skip"))
fig.add_trace(go.Scatter(x=[611, 673], y=[40, 40], mode="lines", xaxis="x5", yaxis="y5",
                         line=dict(color="#FF0000", width=6, dash="20px,36px,6px,36px"),
                         hoverinfo="skip"))
for txt, xx in [("He", 451), ("H<i>α</i>", 725)]:
    annotations.append(dict(text=txt, x=xx / W, y=1 - 40 / H, xref="paper", yref="paper",
                            xanchor="left", yanchor="middle", showarrow=False,
                            font=dict(family=SERIF, size=42, color="black")))

# panel tags and class names
for txt, xx, yy, anc in [("(a)", 910, 152, "center"), ("(b)", 1047, 152, "center"),
                         ("P Cygni", 1787, 152, "right"), ("(c)", 910, 1040, "center"),
                         ("(d)", 1047, 1040, "center"), ("06jc-like", 1789, 1040, "right")]:
    annotations.append(dict(text=txt, x=xx / W, y=1 - yy / H, xref="paper", yref="paper",
                            xanchor=anc, yanchor="middle", showarrow=False,
                            font=dict(family=SERIF, size=54, color="black")))

# axis titles
TITLE_FONT = dict(family=SERIF, size=54, color="black")
for yy in [(Y_TOP[0] + Y_TOP[1]) / 2 - 8, (Y_BOT[0] + Y_BOT[1]) / 2 - 8]:
    annotations.append(dict(text="log<i>F</i><sub>λ</sub> + Constant", x=59 / W, y=1 - yy / H,
                            xref="paper", yref="paper", xanchor="center", yanchor="middle",
                            textangle=-90, showarrow=False, font=TITLE_FONT))
for yy in [(Y_TOP[0] + Y_TOP[1]) / 2, (Y_BOT[0] + Y_BOT[1]) / 2]:
    annotations.append(dict(text="Abs. Mag. (<i>R</i>, <i>r</i>)", x=2016 / W, y=1 - yy / H,
                            xref="paper", yref="paper", xanchor="center", yanchor="middle",
                            textangle=-90, showarrow=False, font=TITLE_FONT))
annotations.append(dict(text="Rest Wavelength (nm)", x=562 / W, y=1 - 1997 / H, xref="paper",
                        yref="paper", xanchor="center", yanchor="middle", showarrow=False,
                        font=TITLE_FONT))
annotations.append(dict(text="Phase (rest days)", x=1405 / W, y=1 - 1997 / H, xref="paper",
                        yref="paper", xanchor="center", yanchor="middle", showarrow=False,
                        font=TITLE_FONT))

TICK_FONT = dict(family=SERIF, size=54, color="black")
frame = dict(showline=True, linecolor="black", linewidth=6, mirror=True, showgrid=False,
             zeroline=False, automargin=False)
X_LABEL_STANDOFF = 19


def wave_axis(dom, anchor, labels):
    return dict(frame, domain=xdom(dom), anchor=anchor, type="log", range=WAVE_RANGE_LOG,
                tickmode="array", tickvals=[400, 600, 800], ticktext=["400", "600", "800"],
                ticks="inside", ticklen=26, tickwidth=2.5, tickcolor="black", mirror="allticks",
                showticklabels=labels, tickfont=TICK_FONT, ticklabelstandoff=X_LABEL_STANDOFF,
                minor=dict(tickmode="array", tickvals=[500, 700, 900], ticks="inside",
                           ticklen=12, tickwidth=2.5, tickcolor="black"))


def phase_axis(dom, anchor, labels):
    return dict(frame, domain=xdom(dom), anchor=anchor, range=PHASE_RANGE, tickmode="linear",
                tick0=0, dtick=20, ticks="inside", ticklen=26, tickwidth=2.5, tickcolor="black",
                mirror="allticks", showticklabels=labels, tickfont=TICK_FONT,
                ticklabelstandoff=X_LABEL_STANDOFF,
                minor=dict(dtick=10, tick0=0, ticks="inside", ticklen=12, tickwidth=2.5,
                           tickcolor="black"))


def flux_axis(dom, anchor):
    return dict(frame, domain=ydom(dom), anchor=anchor, range=FLUX_RANGE, ticks="",
                showticklabels=False)


def mag_axis(dom, anchor, vals):
    return dict(frame, domain=ydom(dom), anchor=anchor, side="right", range=MAG_RANGE,
                tickmode="array", tickvals=vals, ticks="inside", ticklen=26, tickwidth=2.5,
                tickcolor="black", tickfont=TICK_FONT, ticklabelstandoff=20)


fig.update_layout(
    width=W, height=H, margin=dict(l=0, r=0, t=0, b=0, pad=0, autoexpand=False),
    paper_bgcolor="white", plot_bgcolor="rgba(0,0,0,0)", showlegend=False,
    xaxis=wave_axis(X_LEFT, "y", False), yaxis=flux_axis(Y_TOP, "x"),
    xaxis2=phase_axis(X_RIGHT, "y2", False),
    yaxis2=mag_axis(Y_TOP, "x2", [-20, -19, -18, -17, -16, -15, -14, -13]),
    xaxis3=wave_axis(X_LEFT, "y3", True), yaxis3=flux_axis(Y_BOT, "x3"),
    xaxis4=phase_axis(X_RIGHT, "y4", True),
    yaxis4=mag_axis(Y_BOT, "x4", [-20, -19, -18, -17, -16, -15, -14, -13, -12]),
    xaxis5=dict(domain=[0, 1], range=[0, W], visible=False, anchor="y5", fixedrange=True,
                automargin=False),
    yaxis5=dict(domain=[0, 1], range=[H, 0], visible=False, anchor="x5", fixedrange=True,
                automargin=False),
    annotations=annotations,
)

fig.write_html("out.html")
